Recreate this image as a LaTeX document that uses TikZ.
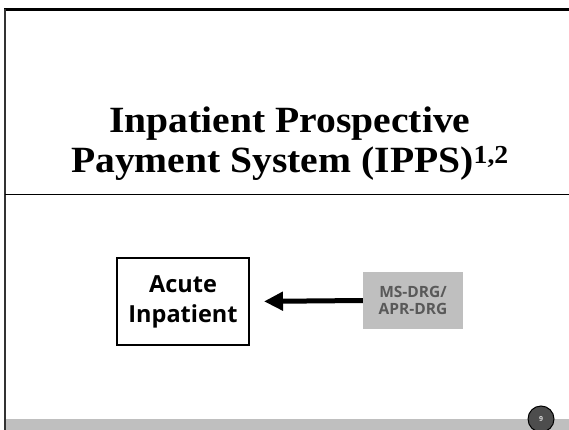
\documentclass[tikz,border=0pt]{standalone}
\usepackage{fontspec}
\setmainfont{Liberation Serif}
\newfontfamily\titlefont{Liberation Serif}[FakeStretch=1.07]
\newfontfamily\bodyfont{Open Sans}
\usetikzlibrary{arrows.meta}
\definecolor{barGray}{HTML}{BFBFBF}
\definecolor{boxGray}{HTML}{BFBFBF}
\definecolor{txtGray}{HTML}{595959}
\definecolor{circGray}{HTML}{4D4D4D}
\tikzset{
  frameline/.style={black, line width=#1},
  titletext/.style={font=\titlefont\fontsize{37}{40}\selectfont\bfseries, align=center, inner sep=0pt},
  whitebox/.style={draw=black, line width=2pt, minimum width=132pt, minimum height=87pt, inner sep=0pt,
     font=\bodyfont\fontsize{23.5}{30}\selectfont\bfseries, align=center},
  graybox/.style={fill=boxGray, minimum width=100pt, minimum height=57pt, inner sep=0pt,
     text=txtGray, font=\bodyfont\fontsize{15.5}{17.5}\selectfont\bfseries, align=center},
  bigarrow/.style={-{Triangle[length=19pt, width=18pt]}, line width=5pt, black},
  pagecircle/.style={circle, draw=black, line width=1pt, fill=circGray, minimum size=26pt, inner sep=0pt,
     text=black!15, font=\bodyfont\fontsize{7}{8}\selectfont\bfseries}
}
\begin{document}
\begin{tikzpicture}[x=1pt, y=-1pt]
  \useasboundingbox (0,0) rectangle (569,430);
  % frame
  \fill[barGray] (6,419) rectangle (569,430);
  \draw[frameline=3pt] (4,10) -- (569,10);
  \draw[black!80, line width=2pt] (5,9) -- (5,430);
  \draw[frameline=1pt] (5,195) -- (569,195);
  % title
  \node[titletext, anchor=base] (title) at (290,173)
    {Inpatient Prospective\\Payment System (IPPS)\textsuperscript{1,2}};
  % boxes
  \node[whitebox] (acute) at (183,301.5) {Acute\\Inpatient};
  \node[graybox] (drg) at (413,300.5) {MS-DRG/\\APR-DRG};
  \draw[bigarrow, shorten >=14pt] (drg.west) -- (acute.east);
  % page number
  \node[pagecircle] (page) at (541,419) {9};
\end{tikzpicture}
\end{document}
